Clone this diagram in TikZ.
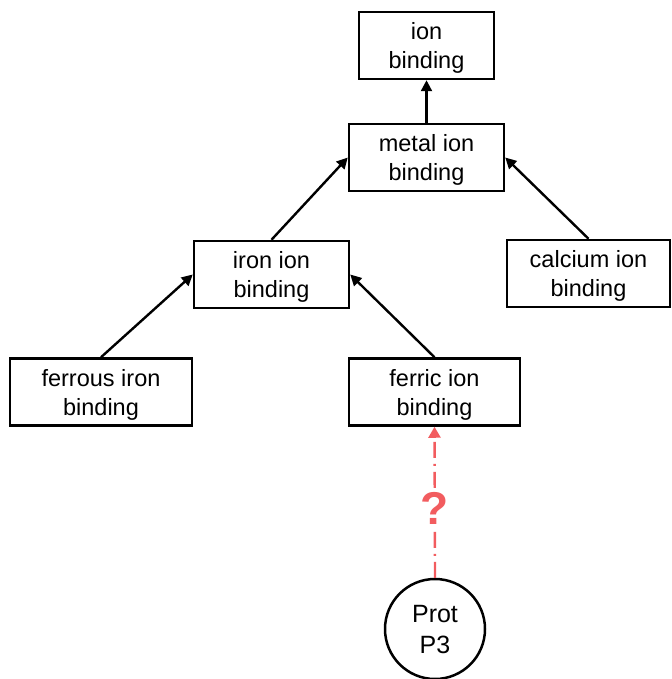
\documentclass[tikz,border=0pt]{standalone}
\usepackage{fontspec}
\setmainfont{Liberation Sans}
\usetikzlibrary{arrows.meta}
\definecolor{qred}{HTML}{F25C5F}
\tikzset{
  term/.style={draw, line width=2.5pt, minimum height=67pt, inner sep=0pt,
    align=center, text depth=-1pt, font=\fontsize{23.5}{29}\selectfont},
  isa/.style={line width=2.4pt, -{Triangle[length=11pt,width=11pt]}},
  prot/.style={draw, circle, line width=2.5pt, minimum size=100pt, inner sep=0pt,
    align=center, text depth=-1pt, font=\fontsize{25}{31}\selectfont},
  guess/.style={qred, line width=2.4pt, dash pattern=on 16pt off 6pt on 2pt off 6pt,
    -{Triangle[length=11pt,width=12pt]}}
}
\begin{document}
\begin{tikzpicture}[x=1pt,y=-1pt]
\useasboundingbox (0,0) rectangle (671,679);
\node[term, minimum width=135pt] (ion) at (426.5,45.5) {ion\\binding};
\node[term, minimum width=155pt] (metal) at (426.5,157.5) {metal ion\\binding};
\node[term, minimum width=155pt] (iron) at (271.5,274.5) {iron ion\\binding};
\node[term, minimum width=163pt] (calcium) at (588.5,273.5) {calcium ion\\binding};
\node[term, minimum width=182pt] (ferrous) at (101,392) {ferrous iron\\binding};
\node[term, minimum width=171pt] (ferric) at (434.5,392) {ferric ion\\binding};
\node[prot] (p3) at (435,629) {Prot\\P3};

\draw[isa] (metal.north) -- (ion.south);
\draw[isa] (iron.north) -- (metal.west);
\draw[isa] (calcium.north) -- (metal.east);
\draw[isa] (ferrous.north) -- (iron.west);
\draw[isa] (ferric.north) -- (iron.east);

\draw[guess] (p3.north) -- (ferric.south);
\node[fill=white, inner sep=2pt, text=qred, font=\bfseries\fontsize{46}{46}\selectfont] (q) at (435,508) {?};
\end{tikzpicture}
\end{document}
